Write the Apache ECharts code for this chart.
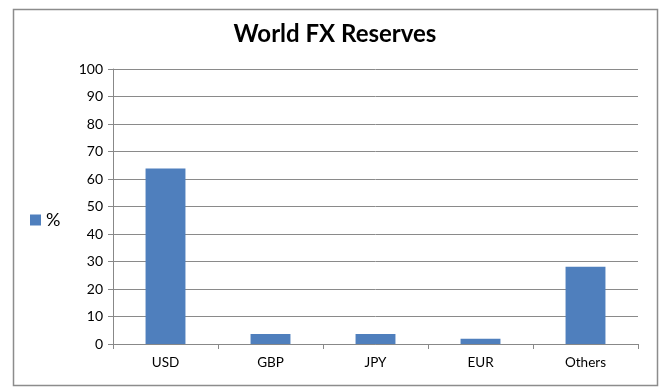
<!DOCTYPE html>
<html><head><meta charset="utf-8">
<script src="https://cdn.jsdelivr.net/npm/echarts@6/dist/echarts.min.js"></script>
<style>html,body{margin:0;padding:0;background:#fff}#c{width:670px;height:391px}</style>
</head><body><div id="c"></div>
<script>
const categories = ['USD', 'GBP', 'JPY', 'EUR', 'Others'];
const values = [63.8, 3.6, 3.6, 1.9, 28.1];
const seriesName = '%';
const titleText = 'World FX Reserves';

const chart = echarts.init(document.getElementById('c'), null, {renderer: 'canvas'});
chart.setOption({
  animation: false,
  backgroundColor: '#fff',
  title: {
    text: titleText, left: 'center', top: 17,
    textStyle: {fontFamily: 'Lato', fontWeight: 'bold', fontSize: 24, color: '#000'}
  },
  graphic: [{
    type: 'rect', left: 11, top: 7, shape: {width: 644, height: 376},
    style: {fill: 'none', stroke: '#8c8c8c', lineWidth: 1.5}, silent: true
  }],
  legend: {
    data: [seriesName], left: 25, top: 206, itemWidth: 11, itemHeight: 11,
    icon: 'rect', itemGap: 6,
    textStyle: {fontFamily: 'Lato', fontSize: 18, color: '#000', padding: [0,0,0,0]}
  },
  grid: {left: 113, right: 32, top: 69, bottom: 47, containLabel: false},
  xAxis: {
    type: 'category', data: categories,
    axisLine: {lineStyle: {color: '#888', width: 1}},
    axisTick: {show: true, alignWithLabel: false, length: 5, lineStyle: {color: '#888'}},
    axisLabel: {fontFamily: 'Lato', fontSize: 13.5, color: '#000', margin: 12}
  },
  yAxis: {
    type: 'value', min: 0, max: 100, interval: 10,
    axisLine: {show: true, lineStyle: {color: '#888', width: 1}},
    axisTick: {show: true, length: 5, lineStyle: {color: '#888'}},
    splitLine: {lineStyle: {color: '#8a8a8a', width: 1}},
    axisLabel: {fontFamily: 'Lato', fontSize: 14, color: '#000', margin: 10}
  },
  series: [{
    name: seriesName, type: 'bar', data: values, barWidth: '38%',
    itemStyle: {color: '#4F7FBD'}
  }]
});
</script></body></html>
